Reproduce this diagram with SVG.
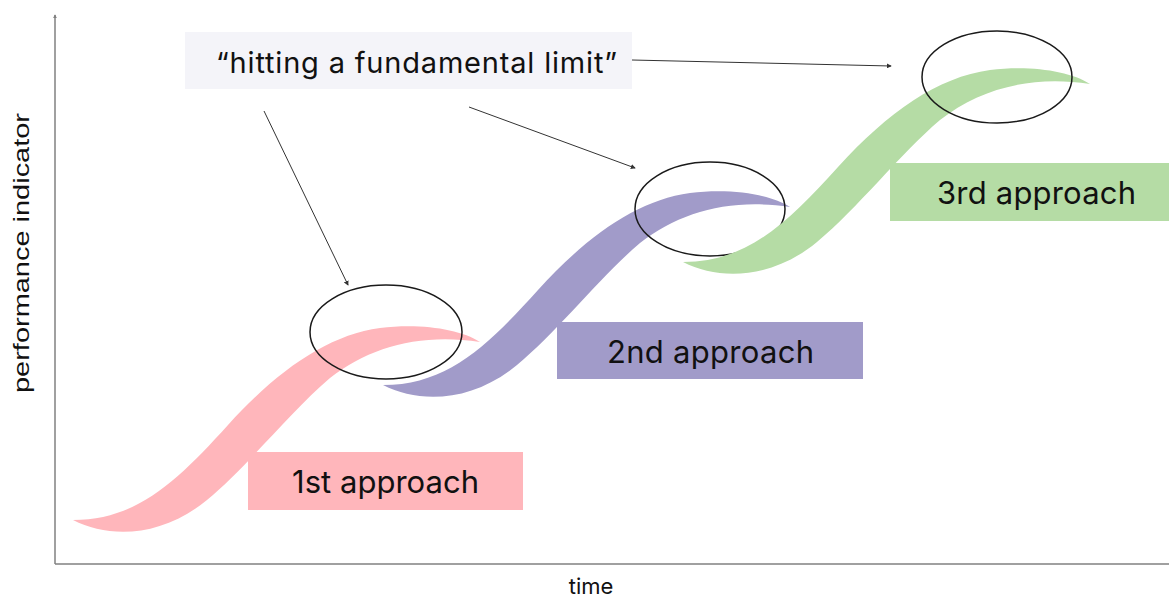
<svg xmlns="http://www.w3.org/2000/svg" xmlns:xlink="http://www.w3.org/1999/xlink" width="1169" height="599" viewBox="0 0 1169 599">
  <style>
    .axis { stroke: #808080; stroke-width: 1.5; fill: none; }
    .limit { fill: none; stroke: #1a1a1a; stroke-width: 1.5; }
    .pointer { stroke: #333333; stroke-width: 1; fill: none; marker-end: url(#tip); }
    .label { font-family: Inter, "Noto Sans", sans-serif; fill: #111111; }
    .axis-label { font-family: "Liberation Sans", Arial, sans-serif; fill: #111111; }
    .pink { fill: #FFB6BB; }
    .purple { fill: #A19BC9; }
    .green { fill: #B5DCA5; }
  </style>
  <defs>
    <!-- one S-shaped growth band; each approach reuses it at a new offset -->
    <path id="band" d="M73,520 C110,539 162,537 207,500 C247,467 290,412 330,378 C370,347 420,333 480,342 C460,329 420,323 380,328 C328,335 278,370 228,425 C178,480 138,520 73,520 Z"/>
    <marker id="tip" viewBox="0 0 6 6" refX="5" refY="3" markerWidth="5" markerHeight="5" markerUnits="userSpaceOnUse" orient="auto">
      <path d="M0,0 L6,3 L0,6 Z" fill="#333333"/>
    </marker>
    <marker id="axis-tip" viewBox="0 0 6 6" refX="5" refY="3" markerWidth="4" markerHeight="4" markerUnits="userSpaceOnUse" orient="auto">
      <path d="M0,0 L6,3 L0,6 Z" fill="#808080"/>
    </marker>
  </defs>

  <rect width="1169" height="599" fill="#ffffff"/>

  <!-- axes -->
  <g id="axes">
    <line class="axis" x1="55" y1="564" x2="55" y2="15" marker-end="url(#axis-tip)"/>
    <line class="axis" x1="55" y1="564" x2="1169" y2="564"/>
    <text class="axis-label" font-size="22" transform="translate(29,393) rotate(-90)" textLength="280" lengthAdjust="spacingAndGlyphs">performance indicator</text>
    <text class="label" x="591" y="594" font-size="22" text-anchor="middle">time</text>
  </g>

  <!-- first approach -->
  <g id="approach-1">
    <use xlink:href="#band" href="#band" class="pink"/>
  </g>
  <g id="limit-1">
    <ellipse class="limit" cx="386" cy="332" rx="76" ry="47"/>
  </g>

  <!-- second approach -->
  <g id="approach-2">
    <use xlink:href="#band" href="#band" class="purple" transform="translate(310,-135)"/>
  </g>
  <g id="limit-2">
    <ellipse class="limit" cx="710" cy="209" rx="75" ry="47"/>
  </g>

  <!-- third approach -->
  <g id="approach-3">
    <use xlink:href="#band" href="#band" class="green" transform="translate(610,-258)"/>
  </g>
  <g id="limit-3">
    <ellipse class="limit" cx="997" cy="77" rx="75" ry="46"/>
  </g>

  <!-- approach labels -->
  <g id="label-1">
    <rect x="248" y="452" width="275" height="58" class="pink"/>
    <text class="label" x="292" y="493" font-size="31" textLength="187" lengthAdjust="spacing">1st approach</text>
  </g>
  <g id="label-2">
    <rect x="557" y="322" width="306" height="57" class="purple"/>
    <text class="label" x="607" y="363" font-size="31" textLength="207" lengthAdjust="spacing">2nd approach</text>
  </g>
  <g id="label-3">
    <rect x="890" y="163" width="279" height="58" class="green"/>
    <text class="label" x="937" y="204" font-size="31" textLength="199" lengthAdjust="spacing">3rd approach</text>
  </g>

  <!-- callout -->
  <g id="callout">
    <rect x="185" y="32" width="447" height="57" fill="#F4F4F9"/>
    <text class="label" x="216" y="73" font-size="29" textLength="401" lengthAdjust="spacing">“hitting a fundamental limit”</text>
  </g>

  <!-- pointers from the callout to each plateau -->
  <g id="connectors">
    <line class="pointer" x1="264" y1="111" x2="348" y2="285"/>
    <line class="pointer" x1="469" y1="107" x2="635" y2="168"/>
    <line class="pointer" x1="632" y1="60" x2="891" y2="66"/>
  </g>
</svg>
